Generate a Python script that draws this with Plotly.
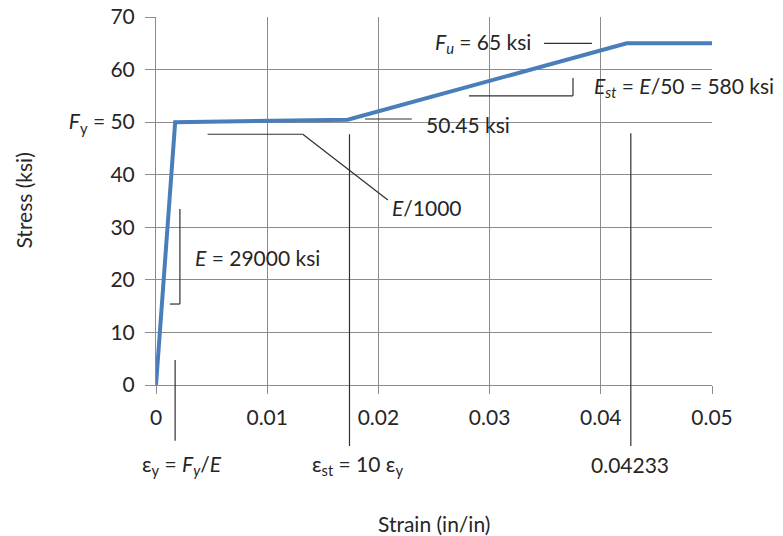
import plotly.graph_objects as go

# ---- data ----
strain = [0, 0.001724, 0.01724, 0.04233, 0.05]
stress = [0, 50, 50.45, 65, 65]

x_ticks = [0, 0.01, 0.02, 0.03, 0.04, 0.05]
x_ticktext = ["0", "0.01", "0.02", "0.03", "0.04", "0.05"]
y_ticks = [0, 10, 20, 30, 40, 50, 60, 70]
y_ticktext = ["0", "10", "20", "30", "40", "<i>F</i><sub>y</sub> = 50", "60", "70"]

X_RANGE = [0, 0.05]
Y_RANGE = [0, 70]

# leader lines for the callouts (data units)
leaders = [
    [(0.00215, 33.5), (0.00215, 15.4), (0.00125, 15.4)],
    [(0.00464, 47.7), (0.0132, 47.7), (0.02085, 35.2)],
    [(0.0174, 47.7), (0.0174, -11.6)],
    [(0.0188, 50.6), (0.0230, 50.6)],
    [(0.02815, 55.0), (0.0375, 55.0), (0.0375, 58.4)],
    [(0.0349, 65.0), (0.0392, 65.0)],
    [(0.0427, 47.9), (0.0427, -11.6)],
    [(0.00172, 4.75), (0.00172, -10.6)],
]

FONT = "Lato, 'Open Sans', sans-serif"
FS = 21
TXT = "#262626"


def fx(v):
    return (v - X_RANGE[0]) / (X_RANGE[1] - X_RANGE[0])


def fy(v):
    return (v - Y_RANGE[0]) / (Y_RANGE[1] - Y_RANGE[0])


fig = go.Figure()
fig.add_trace(go.Scatter(x=strain, y=stress, mode="lines",
                         line=dict(color="#4A7EBB", width=4), showlegend=False,
                         hoverinfo="x+y"))

shapes = []
for seg in leaders:
    for (a, b) in zip(seg[:-1], seg[1:]):
        shapes.append(dict(type="line", xref="paper", yref="paper",
                           x0=fx(a[0]), y0=fy(a[1]), x1=fx(b[0]), y1=fy(b[1]),
                           line=dict(color="#303030", width=1.2)))

annots = [
    dict(x=0.00329, y=24.3, text="<i>E</i> = 29000 ksi", xanchor="left"),
    dict(x=0.0210, y=33.7, text="<i>E</i>/1000", xanchor="left"),
    dict(x=0.0241, y=49.5, text="50.45 ksi", xanchor="left"),
    dict(x=0.0392, y=56.7, text="<i>E<sub>st</sub></i> = <i>E</i>/50 = 580 ksi", xanchor="left"),
    dict(x=0.0339, y=65.0, text="<i>F<sub>u</sub></i> = 65 ksi", xanchor="right"),
]
annotations = []
for a in annots:
    annotations.append(dict(xref="x", yref="y", yanchor="middle", showarrow=False,
                            font=dict(family=FONT, size=FS, color=TXT), **a))

below = [
    (0.0023, "ε<sub>y</sub> = <i>F<sub>y</sub></i>/<i>E</i>"),
    (0.0181, "ε<sub>st</sub> = 10 ε<sub>y</sub>"),
    (0.0426, "0.04233"),
]
for xv, t in below:
    annotations.append(dict(xref="x", yref="paper", x=xv, y=-0.217, text=t,
                            showarrow=False, xanchor="center", yanchor="middle",
                            font=dict(family=FONT, size=FS, color=TXT)))

annotations.append(dict(xref="paper", yref="paper", x=0.5, y=-0.375,
                        text="Strain (in/in)", showarrow=False,
                        xanchor="center", yanchor="middle",
                        font=dict(family=FONT, size=FS, color=TXT)))
annotations.append(dict(xref="paper", yref="paper", x=-0.24, y=0.5,
                        text="Stress (ksi)", showarrow=False, textangle=-90,
                        xanchor="center", yanchor="middle",
                        font=dict(family=FONT, size=FS, color=TXT)))

grid = "#8c8c8c"
fig.update_layout(
    width=783, height=536,
    margin=dict(l=156, r=71, t=17, b=151, autoexpand=False),
    paper_bgcolor="white", plot_bgcolor="white",
    font=dict(family=FONT, size=FS, color=TXT),
    shapes=shapes, annotations=annotations,
    xaxis=dict(range=X_RANGE, tickvals=x_ticks, ticktext=x_ticktext,
               showgrid=True, gridcolor=grid, gridwidth=1,
               ticks="outside", ticklen=8, tickcolor=grid,
               zeroline=False, showline=True, linecolor=grid,
               ticklabelstandoff=6, fixedrange=True, automargin=False),
    yaxis=dict(range=Y_RANGE, tickvals=y_ticks, ticktext=y_ticktext,
               showgrid=True, gridcolor=grid, gridwidth=1,
               ticks="outside", ticklen=10, tickcolor=grid,
               zeroline=False, showline=True, linecolor=grid,
               ticklabelstandoff=6, fixedrange=True, automargin=False),
)

fig.write_html("out.html", config={"displayModeBar": False},
               post_script="document.body.style.margin='0px';")
